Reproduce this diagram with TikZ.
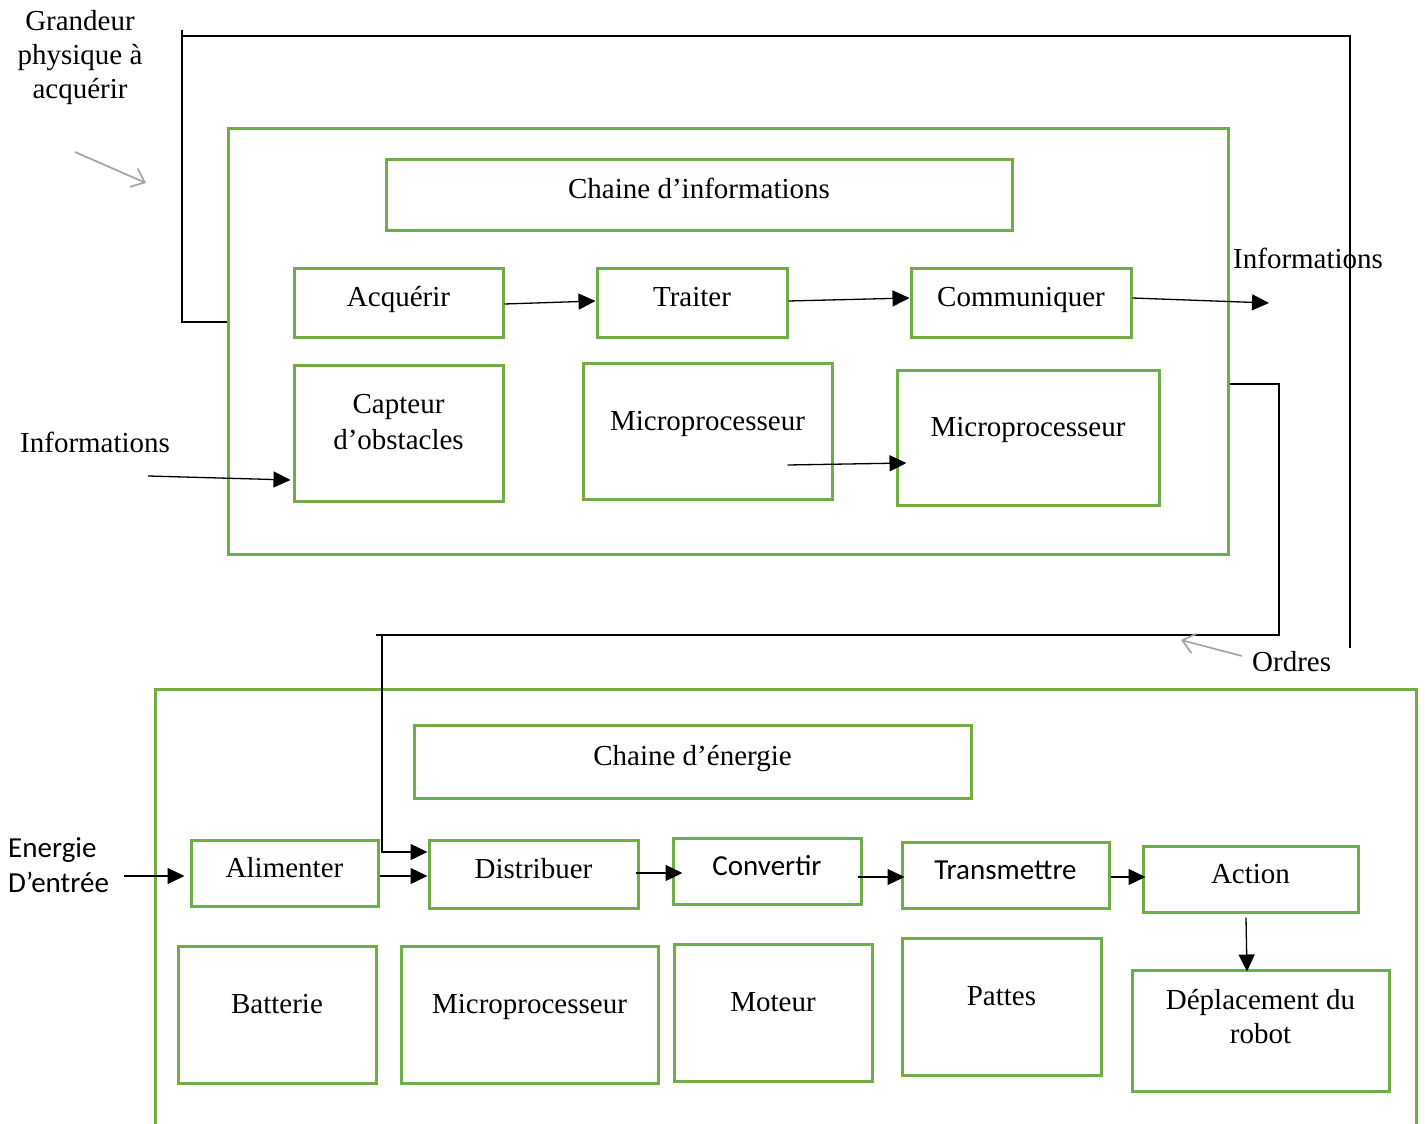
\documentclass[tikz,border=0pt]{standalone}
\usepackage{fontspec}
\setmainfont{Liberation Serif}
\newfontfamily\carl{Carlito}
\usetikzlibrary{arrows.meta}
\definecolor{grn}{RGB}{112,173,71}
\definecolor{gry}{RGB}{165,165,165}

\begin{document}
\begin{tikzpicture}[x=1pt,y=-1pt,
  every node/.style={font=\fontsize{29pt}{34pt}\selectfont, inner sep=0pt},
  sz/.style 2 args={minimum width=#1pt, minimum height=#2pt},
  gbox/.style={draw=grn, line width=3pt},
  shortt/.style={text height=20pt, text depth=12pt},
  tallt/.style={text height=20pt, text depth=22pt},
  ln/.style={draw=black, line width=1.3pt},
  arr/.style={draw=black, line width=1.3pt, -{Triangle[length=17pt,width=16pt]}},
  garr/.style={draw=gry, line width=1.7pt, -{Straight Barb[length=12pt,width=20pt]}},
  sanslbl/.style={font=\carl\fontsize{29pt}{35pt}\selectfont}
]
\useasboundingbox[fill=white] (0,0) rectangle (1425,1124);

% ---------- information chain ----------
\node[gbox, sz={1000}{426}] (info) at (728,341) {};
\node[gbox, sz={626}{71}, shortt] (ichain) at (699,194.5) {Chaine d’informations};
\node[gbox, sz={209}{69}, shortt] (acq) at (398.5,302.5) {Acquérir};
\node[gbox, sz={190}{69}, shortt] (tra) at (692,302.5) {Traiter};
\node[gbox, sz={220}{69}, shortt] (com) at (1021,302.5) {Communiquer};
\node[gbox, sz={209}{136}] (cap) at (398.5,433) {};
\node[align=center, font=\fontsize{29pt}{36pt}\selectfont] (capt) at (398.5,422) {Capteur\\d’obstacles};
\node[gbox, sz={249}{136}, tallt] (mp1) at (707.5,431) {Microprocesseur};
\node[gbox, sz={262}{135}, tallt] (mp2) at (1028,437.5) {Microprocesseur};

% ---------- energy chain ----------
\draw[gbox] (155,1130) -- (155,689) -- (1416,689) -- (1416,1130);
\node[gbox, sz={557}{73}, shortt] (echain) at (692.5,761.5) {Chaine d’énergie};
\node[gbox, sz={187}{66}, shortt] (ali) at (284.5,873) {Alimenter};
\node[gbox, sz={209}{68}, shortt] (dis) at (533.5,874) {Distribuer};
\node[gbox, sz={188}{66}, shortt, sanslbl] (con) at (767,871) {Convertir};
\node[gbox, sz={207}{66}, shortt, sanslbl] (tsm) at (1005.5,875) {Transmettre};
\node[gbox, sz={215}{66}, shortt] (act) at (1250.5,879) {Action};
\node[gbox, sz={198}{137}, tallt] (bat) at (277,1014.5) {Batterie};
\node[gbox, sz={257}{137}, tallt] (mp3) at (529.5,1014.5) {Microprocesseur};
\node[gbox, sz={198}{137}, tallt] (mot) at (773,1012.5) {Moteur};
\node[gbox, sz={199}{137}, tallt] (pat) at (1001.5,1006.5) {Pattes};
\node[gbox, sz={257}{121}] (dep) at (1260.5,1030.5) {};
\node[align=center] (dept) at (1260.5,1017) {Déplacement du\\robot};

% ---------- free labels ----------
\node[align=center] (grand) at (80,58) {Grandeur\\physique à\\acquérir};
\node[anchor=base west] (infr) at (1233,268) {Informations};
\node[anchor=base west] (infl) at (20,452) {Informations};
\node[anchor=base west] (ord) at (1252,671) {Ordres};
\node[sanslbl, align=left, anchor=west] (ener) at (8,865) {Energie\\D’entrée};

% ---------- loop lines ----------
\coordinate (gtop) at (182,30);
\coordinate (ttl) at (182,36);
\coordinate (ordend) at (1350,648);
\draw[ln] (gtop) |- ([yshift=19pt]info.west);
\draw[ln] (ttl) -| (ordend);

\coordinate (rc) at (1279,635);
\coordinate (lc) at (376,635);
\coordinate (dc) at (382,635);
\draw[ln] ([yshift=-43pt]info.east) -| (rc) -- (lc);
\draw[arr] (dc) |- ([yshift=22pt]dis.west);

% ---------- information arrows ----------
\coordinate (infout) at (1269,303);
\coordinate (infin) at (148,476);
\draw[arr] ([yshift=-1.5pt]acq.east) -- ([yshift=1.5pt]tra.west);
\draw[arr] ([yshift=1.5pt]tra.east) -- ([yshift=4.5pt]com.west);
\draw[arr] ([yshift=4.5pt]com.east) -- (infout);
\draw[arr] (infin) -- ([xshift=-2pt,yshift=-47pt]cap.west);
\draw[arr] ([xshift=-46pt,yshift=-34pt]mp1.east) -- ([xshift=11pt,yshift=-25.5pt]mp2.west);

% ---------- energy arrows ----------
\coordinate (ein) at (124,876);
\draw[arr] (ein) -- ([xshift=-5pt,yshift=-3pt]ali.west);
\draw[arr] ([yshift=-3pt]ali.east) -- ([yshift=-2pt]dis.west);
\draw[arr] ([xshift=-4pt,yshift=1pt]dis.east) -- ([xshift=11pt,yshift=-2pt]con.west);
\draw[arr] ([xshift=-5pt,yshift=-6pt]con.east) -- ([xshift=4pt,yshift=-2pt]tsm.west);
\draw[arr] ([yshift=-2pt]tsm.east) -- ([xshift=4pt,yshift=2pt]act.west);
\draw[arr] ([xshift=-4.5pt,yshift=-4pt]act.south) -- ([xshift=-13.5pt,yshift=-3pt]dep.north);

% ---------- grey pointers ----------
\coordinate (ga1) at (75,152);
\coordinate (ga2) at (146,183);
\coordinate (gb1) at (1242,656);
\coordinate (gb2) at (1181,640);
\draw[garr] (ga1) -- (ga2);
\draw[garr] (gb1) -- (gb2);
\end{tikzpicture}
\end{document}
